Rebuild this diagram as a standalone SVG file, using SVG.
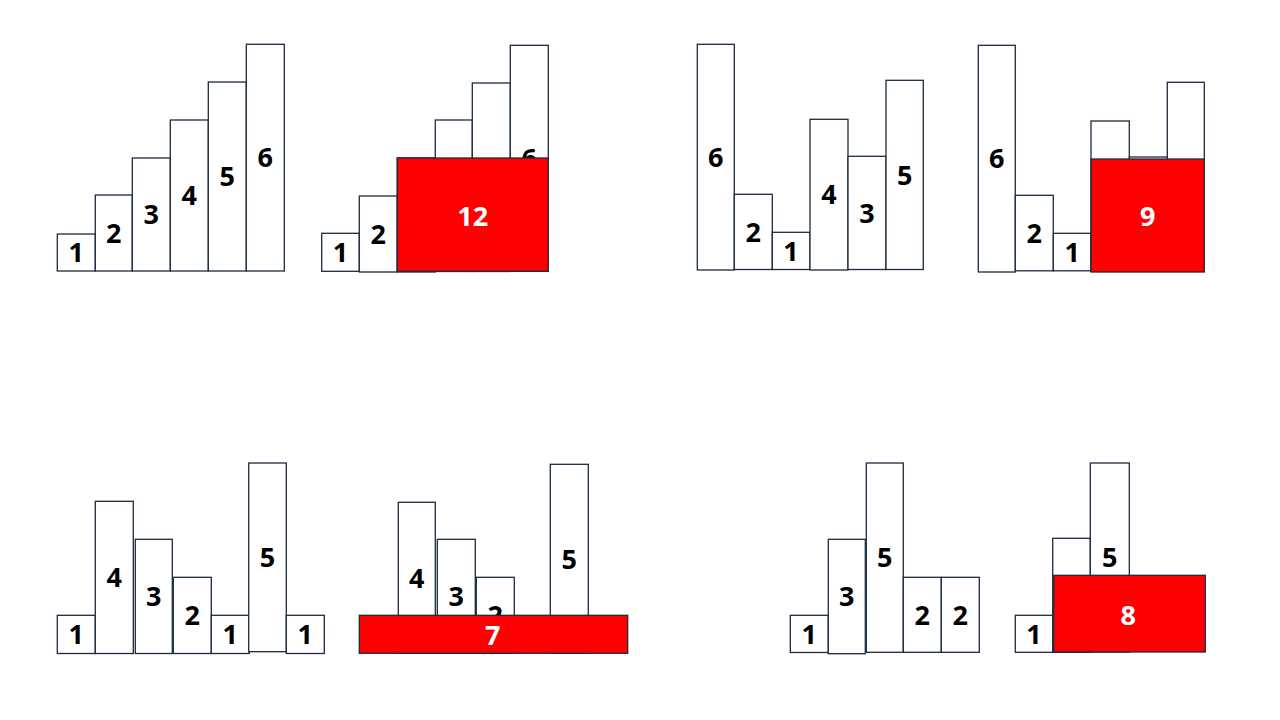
<svg xmlns="http://www.w3.org/2000/svg" width="1280" height="720" viewBox="0 0 1280 720">
<style>
.bar{fill:#fff;stroke:#1c2b40;stroke-width:1.3}
.red{fill:#ff0000;stroke:#1c2b40;stroke-width:1.3}
.lbl{font-family:"Open Sans",Lato,"Liberation Sans",sans-serif;font-weight:bold;font-size:27px;fill:#000;text-anchor:middle}
.wl{font-family:"Open Sans",Lato,"Liberation Sans",sans-serif;font-weight:bold;font-size:27px;fill:#fff;text-anchor:middle}
</style>
<rect width="1280" height="720" fill="#fff"/>
<g id="panel1">
<rect class="bar" x="57.3" y="234" width="38" height="37"/><text class="lbl" x="76.3" y="262.2">1</text>
<rect class="bar" x="95.3" y="195" width="37" height="76"/><text class="lbl" x="113.8" y="242.7">2</text>
<rect class="bar" x="132.3" y="158" width="38" height="113"/><text class="lbl" x="151.3" y="224.2">3</text>
<rect class="bar" x="170.3" y="120" width="38" height="151"/><text class="lbl" x="189.3" y="205.2">4</text>
<rect class="bar" x="208.3" y="82" width="38" height="189"/><text class="lbl" x="227.3" y="186.2">5</text>
<rect class="bar" x="246.3" y="44.3" width="38" height="226.7"/><text class="lbl" x="265.3" y="167.4">6</text>
</g>
<g id="panel2">
<rect class="bar" x="321.7" y="233.3" width="37.6" height="38"/><text class="lbl" x="340.5" y="262">1</text>
<rect class="bar" x="359.3" y="196" width="38" height="76"/><text class="lbl" x="378.3" y="243.7">2</text>
<rect class="bar" x="397.3" y="158" width="38" height="114"/>
<rect class="bar" x="435.3" y="120" width="37" height="151.5"/>
<rect class="bar" x="472.3" y="83" width="38" height="188.5"/>
<rect class="bar" x="510.3" y="45.3" width="38" height="226"/><text class="lbl" x="529.3" y="168">6</text>
<rect class="red" x="397.3" y="158" width="151" height="113.3"/><text class="wl" x="472.8" y="226">12</text>
</g>
<g id="panel3">
<rect class="bar" x="697.3" y="44.3" width="37" height="225.7"/><text class="lbl" x="715.8" y="166.7">6</text>
<rect class="bar" x="734.3" y="194.3" width="38" height="75.2"/><text class="lbl" x="753.3" y="241.7">2</text>
<rect class="bar" x="772.3" y="232.3" width="37.7" height="37.2"/><text class="lbl" x="791" y="260.6">1</text>
<rect class="bar" x="810" y="119.3" width="38" height="150.7"/><text class="lbl" x="829" y="204.4">4</text>
<rect class="bar" x="848" y="156.3" width="38" height="113.2"/><text class="lbl" x="867" y="222.6">3</text>
<rect class="bar" x="886" y="80.3" width="37.3" height="189.2"/><text class="lbl" x="904.7" y="184.6">5</text>
</g>
<g id="panel4">
<rect class="bar" x="978.3" y="45.3" width="37" height="226.7"/><text class="lbl" x="996.8" y="168.4">6</text>
<rect class="bar" x="1015.3" y="195.3" width="38" height="75.5"/><text class="lbl" x="1034.3" y="242.7">2</text>
<rect class="bar" x="1053.3" y="233.3" width="37.7" height="37.5"/><text class="lbl" x="1072.2" y="261.7">1</text>
<rect class="bar" x="1091" y="121" width="38.3" height="150"/>
<rect class="bar" x="1129.3" y="157" width="38" height="114"/>
<rect class="bar" x="1167.3" y="82.3" width="37" height="188.7"/>
<rect class="red" x="1091" y="159" width="113.3" height="113"/><text class="wl" x="1147.7" y="226">9</text>
</g>
<g id="panel5">
<rect class="bar" x="57.3" y="615.3" width="38" height="38.2"/><text class="lbl" x="76.3" y="644">1</text>
<rect class="bar" x="95.3" y="501.3" width="38" height="152.2"/><text class="lbl" x="114.3" y="587">4</text>
<rect class="bar" x="135.3" y="539.3" width="37" height="114.2"/><text class="lbl" x="153.8" y="606">3</text>
<rect class="bar" x="173.3" y="577.3" width="38" height="76.2"/><text class="lbl" x="192.3" y="625">2</text>
<rect class="bar" x="211.3" y="615.3" width="38" height="38.2"/><text class="lbl" x="230.3" y="644">1</text>
<rect class="bar" x="248.7" y="463" width="37.6" height="188.7"/><text class="lbl" x="267.5" y="567">5</text>
<rect class="bar" x="286.3" y="615.3" width="38" height="38.2"/><text class="lbl" x="305.3" y="644">1</text>
</g>
<g id="panel6">
<rect class="bar" x="398.3" y="502.3" width="37" height="151"/><text class="lbl" x="416.8" y="587.5">4</text>
<rect class="bar" x="437.3" y="539.3" width="38" height="114"/><text class="lbl" x="456.3" y="606">3</text>
<rect class="bar" x="476.3" y="577.3" width="38" height="76"/><text class="lbl" x="495.3" y="624.5">2</text>
<rect class="bar" x="550.3" y="464.3" width="38" height="189"/><text class="lbl" x="569.3" y="568.5">5</text>
<rect class="red" x="359.3" y="615.3" width="268.4" height="38"/><text class="wl" x="492.7" y="645">7</text>
</g>
<g id="panel7">
<rect class="bar" x="790.3" y="615.3" width="38" height="37.2"/><text class="lbl" x="809.3" y="643.6">1</text>
<rect class="bar" x="828.3" y="539.3" width="37" height="114.4"/><text class="lbl" x="846.8" y="606">3</text>
<rect class="bar" x="866.3" y="463" width="37" height="189.3"/><text class="lbl" x="884.8" y="567.4">5</text>
<rect class="bar" x="903.3" y="577.3" width="38" height="75"/><text class="lbl" x="922.3" y="624.7">2</text>
<rect class="bar" x="941.3" y="577.3" width="38" height="75"/><text class="lbl" x="960.3" y="624.7">2</text>
</g>
<g id="panel8">
<rect class="bar" x="1015.3" y="615.3" width="37.4" height="37"/><text class="lbl" x="1034" y="643.5">1</text>
<rect class="bar" x="1052.7" y="538.3" width="37.6" height="114"/>
<rect class="bar" x="1090.3" y="463" width="39" height="189"/><text class="lbl" x="1109.8" y="567.2">5</text>
<rect class="red" x="1053.7" y="575.3" width="151.6" height="76.7"/><text class="wl" x="1128.3" y="625">8</text>
</g>
<g id="connectors"/>
</svg>
